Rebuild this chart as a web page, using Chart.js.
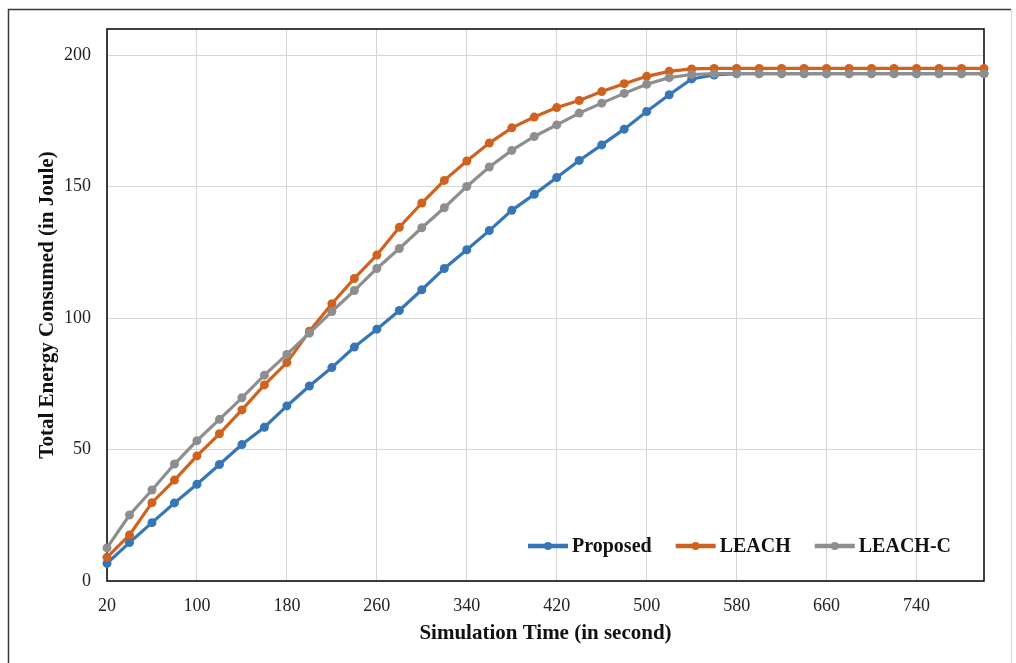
<!DOCTYPE html>
<html>
<head>
<meta charset="utf-8">
<script src="https://cdn.jsdelivr.net/npm/chart.js@4.4.1/dist/chart.umd.min.js"></script>
<style>
    html, body { margin: 0; padding: 0; background: #fff; }
    #wrap { position: relative; width: 1016px; height: 663px; }
</style>
</head>
<body>
<div id="wrap"><canvas id="energyChart" width="1016" height="663"></canvas></div>
<script>
// simulation time (s)
const simTime = [20, 40, 60, 80, 100, 120, 140, 160, 180, 200,
    220, 240, 260, 280, 300, 320, 340, 360, 380, 400,
    420, 440, 460, 480, 500, 520, 540, 560, 580, 600,
    620, 640, 660, 680, 700, 720, 740, 760, 780, 800];

// total energy consumed (J)
const proposed = [6.7, 14.6, 22.2, 29.7, 36.8, 44.3, 51.9, 58.5, 66.6, 74.2,
    81.2, 89.0, 95.8, 102.9, 110.8, 118.9, 126.0, 133.3, 141.0, 147.1,
    153.5, 160.0, 165.9, 171.9, 178.6, 185.0, 191.0, 192.5, 193, 193,
    193, 193, 193, 193, 193, 193, 193, 193, 193, 193];
const leach = [9.0, 17.5, 29.8, 38.4, 47.6, 56.0, 65.1, 74.6, 83.1, 95.0,
    105.5, 115.1, 124.0, 134.6, 143.8, 152.4, 159.8, 166.6, 172.4, 176.5,
    180.1, 182.8, 186.2, 189.2, 192.0, 193.9, 194.8, 195, 195, 195,
    195, 195, 195, 195, 195, 195, 195, 195, 195, 195];
const leachC = [12.6, 25.1, 34.6, 44.5, 53.4, 61.5, 69.7, 78.3, 86.2, 94.3,
    102.5, 110.5, 118.9, 126.5, 134.4, 142.0, 150.1, 157.5, 163.8, 169.1,
    173.5, 178.0, 181.8, 185.5, 189.0, 191.5, 192.7, 193, 193, 193,
    193, 193, 193, 193, 193, 193, 193, 193, 193, 193];

const seriesNames = ['Proposed', 'LEACH', 'LEACH-C'];
const xTicks = [20, 100, 180, 260, 340, 420, 500, 580, 660, 740];
const yTicks = [0, 50, 100, 150, 200];

const colors = ['#3776b6', '#d0621f', '#8e8e8e'];
const serif = "'Liberation Serif', 'Times New Roman', serif";

function toPoints(arr) {
    return simTime.map(function(t, i) { return { x: t, y: arr[i] }; });
}

// outer frame + plot border
const framePlugin = {
    id: 'frame',
    beforeDraw: function(chart) {
        const ctx = chart.ctx;
        ctx.save();
        ctx.fillStyle = '#fff';
        ctx.fillRect(0, 0, chart.width, chart.height);
        ctx.strokeStyle = '#3a3a3a';
        ctx.lineWidth = 1.5;
        ctx.beginPath();
        ctx.moveTo(8.5, chart.height);
        ctx.lineTo(8.5, 9.5);
        ctx.lineTo(1011, 9.5);
        ctx.stroke();
        ctx.strokeStyle = '#d8d8d8';
        ctx.lineWidth = 1;
        ctx.beginPath();
        ctx.moveTo(1011.5, 9.5);
        ctx.lineTo(1011.5, chart.height);
        ctx.stroke();
        ctx.restore();
    },
    beforeDatasetsDraw: function(chart) {
        const a = chart.chartArea;
        const ctx = chart.ctx;
        ctx.save();
        ctx.strokeStyle = '#111';
        ctx.lineWidth = 1.6;
        ctx.strokeRect(a.left, a.top, a.right - a.left, a.bottom - a.top);
        ctx.restore();
    }
};

// legend drawn inside the plot, bottom right
const insideLegend = {
    id: 'insideLegend',
    afterDraw: function(chart) {
        const ctx = chart.ctx;
        const a = chart.chartArea;
        ctx.save();
        ctx.font = 'bold 20px ' + serif;
        const lineLen = 40, gapText = 4, gapItem = 24;
        const widths = chart.data.datasets.map(function(ds) { return ctx.measureText(ds.label).width; });
        let total = 0;
        widths.forEach(function(w, i) {
            total += lineLen + gapText + w + (i < widths.length - 1 ? gapItem : 0);
        });
        let x = a.right - 33 - total;
        const y = a.bottom - 35;
        chart.data.datasets.forEach(function(ds, i) {
            ctx.strokeStyle = ds.borderColor;
            ctx.lineWidth = 4.5;
            ctx.beginPath();
            ctx.moveTo(x, y);
            ctx.lineTo(x + lineLen, y);
            ctx.stroke();
            ctx.fillStyle = ds.borderColor;
            ctx.beginPath();
            ctx.arc(x + lineLen / 2, y, 4, 0, Math.PI * 2);
            ctx.fill();
            ctx.fillStyle = '#111';
            ctx.textBaseline = 'middle';
            ctx.textAlign = 'left';
            ctx.fillText(ds.label, x + lineLen + gapText, y + 1);
            x += lineLen + gapText + widths[i] + gapItem;
        });
        ctx.restore();
    }
};

const ctx = document.getElementById('energyChart').getContext('2d');
const energyChart = new Chart(ctx, {
    type: 'line',
    data: {
        datasets: [proposed, leach, leachC].map(function(arr, i) {
            return {
                label: seriesNames[i],
                data: toPoints(arr),
                borderColor: colors[i],
                backgroundColor: colors[i],
                borderWidth: 3.2,
                pointRadius: 4.5,
                pointBorderWidth: 0,
                pointBackgroundColor: colors[i],
                tension: 0,
                clip: false,
                order: 3 - i   // later series drawn on top
            };
        })
    },
    options: {
        responsive: false,
        animation: false,
        layout: { padding: { top: 29, right: 32, left: 0, bottom: 0 } },
        plugins: {
            legend: { display: false },
            tooltip: { enabled: false }
        },
        scales: {
            x: {
                type: 'linear',
                min: 20,
                max: 800,
                afterBuildTicks: function(scale) {
                    scale.ticks = xTicks.map(function(v) { return { value: v }; });
                },
                afterFit: function(scale) { scale.height = 82; },
                grid: { color: '#d6d6d6', lineWidth: 1, drawTicks: false },
                border: { display: false },
                ticks: {
                    padding: 14,
                    color: '#222',
                    maxRotation: 0,
                    font: { family: serif, size: 18 }
                },
                title: {
                    display: true,
                    text: 'Simulation Time (in second)',
                    color: '#111',
                    font: { family: serif, size: 21, weight: 'bold' },
                    padding: { top: 0, bottom: 17 }
                }
            },
            y: {
                min: 0,
                max: 210,
                afterBuildTicks: function(scale) {
                    scale.ticks = yTicks.map(function(v) { return { value: v }; });
                },
                afterFit: function(scale) { scale.width = 107; },
                grid: { color: '#d6d6d6', lineWidth: 1, drawTicks: false },
                border: { display: false },
                ticks: {
                    padding: 16,
                    color: '#222',
                    font: { family: serif, size: 18 }
                },
                title: {
                    display: true,
                    text: 'Total Energy Consumed (in Joule)',
                    color: '#111',
                    font: { family: serif, size: 21, weight: 'bold' },
                    padding: { top: 35, bottom: 0 }
                }
            }
        }
    },
    plugins: [framePlugin, insideLegend]
});
</script>
</body>
</html>
